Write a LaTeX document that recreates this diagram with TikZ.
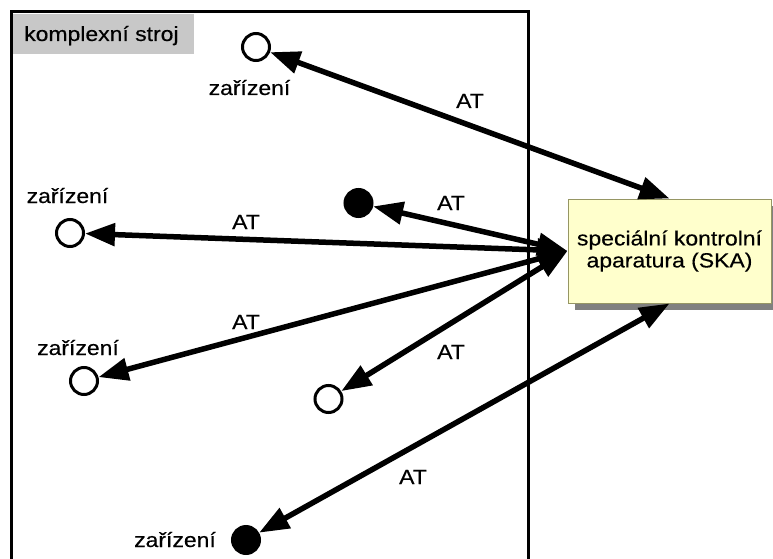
\documentclass[tikz,border=0pt]{standalone}
\usepackage{fontspec}
\setmainfont{Liberation Sans}[FakeStretch=1.12,FakeBold=0.4]
\usetikzlibrary{arrows.meta,shadows}
\definecolor{skafill}{RGB}{255,255,204}
\definecolor{skaline}{RGB}{150,150,100}
\definecolor{tabgray}{RGB}{200,200,200}
\definecolor{shadowgray}{RGB}{128,128,128}
\begin{document}
\begin{tikzpicture}[x=1pt,y=-1pt,
  every node/.style={font=\fontsize{20.5}{22}\selectfont},
  dev/.style={circle,draw=black,line width=3pt,minimum size=27pt,inner sep=0pt},
  devfull/.style={dev,fill=black},
  devlbl/.style={anchor=base,inner sep=0pt},
  conn/.style={line width=5.5pt,
    {Triangle[length=30pt,width=22pt]}-{Triangle[length=30pt,width=22pt]}},
  atlbl/.style={anchor=base,inner sep=0pt}]
\useasboundingbox (0,0) rectangle (773,559);
\clip (0,0) rectangle (773,559);

% the machine: frame open at the bottom, with its title tab
\draw[line width=3pt] (11,600) -- (11,12) -- (528,12) -- (528,600);
\node[fill=tabgray,anchor=north west,minimum width=181pt,minimum height=40pt,inner sep=0pt] (tab) at (12.5,13.5) {};
\node[anchor=base west,inner sep=0pt] (tabtxt) at (24,41) {komplexní stroj};

% the control apparatus
\node[draw=skaline,line width=1pt,fill=skafill,minimum width=203pt,minimum height=104pt,
  align=center,inner sep=0pt,
  drop shadow={shadow xshift=7pt,shadow yshift=-7pt,fill=shadowgray,opacity=1}]
  (ska) at (669.5,251) {speciální kontrolní\\aparatura (SKA)};

% devices
\node[dev] (d1) at (256,47) {};
\node[dev] (d2) at (70,233) {};
\node[devfull] (d3) at (358.5,203) {};
\node[dev] (d4) at (84,381) {};
\node[dev] (d5) at (328.5,399) {};
\node[devfull] (d6) at (246,540) {};

\node[devlbl] (l1) at (249.5,95) {zařízení};
\node[devlbl] (l2) at (67.5,203) {zařízení};
\node[devlbl] (l4) at (78,355) {zařízení};
\node[devlbl] (l6) at (175,547) {zařízení};

% links
\draw[conn] (d1) -- (ska.north);
\draw[conn] (d3) -- (ska.west);
\draw[conn] (d2) -- (ska.west);
\draw[conn] (d4) -- (ska.west);
\draw[conn] (d5) -- (ska.west);
\draw[conn] (d6) -- (ska.south);

\node[atlbl] (a1) at (470,108) {AT};
\node[atlbl] (a3) at (451,210) {AT};
\node[atlbl] (a2) at (246,229) {AT};
\node[atlbl] (a4) at (246,329) {AT};
\node[atlbl] (a5) at (451,359) {AT};
\node[atlbl] (a6) at (413,484) {AT};
\end{tikzpicture}
\end{document}
